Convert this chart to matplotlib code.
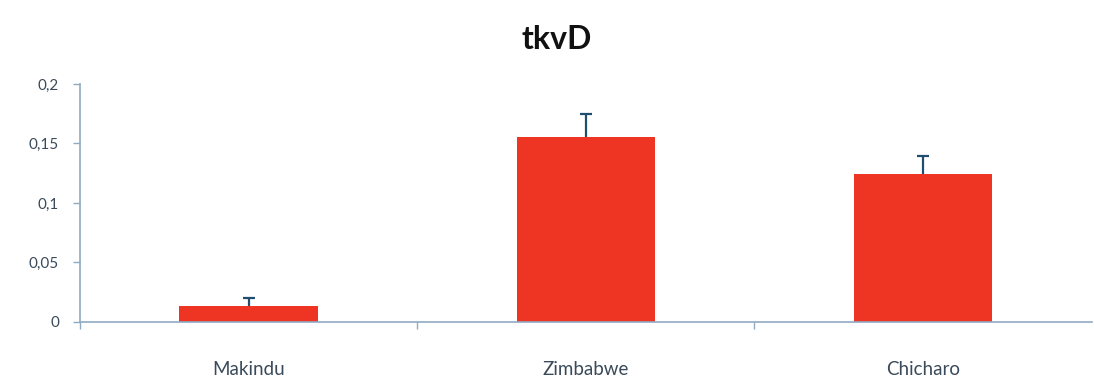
import numpy as np
import matplotlib.pyplot as plt

plt.rcParams['font.family'] = ['Lato', 'DejaVu Sans']

# tkvD expression per variety
varieties = ['Makindu', 'Zimbabwe', 'Chicharo']
means = [0.013, 0.155, 0.124]
errors = [0.007, 0.020, 0.015]
yticks = [0, 0.05, 0.1, 0.15, 0.2]
ytick_labels = ['0', '0,05', '0,1', '0,15', '0,2']

bar_color = '#EE3524'
axis_color = '#8FAAC3'
text_color = '#3A4A5A'
err_color = '#1F4E6E'

fig = plt.figure(figsize=(10.94, 3.85), dpi=100)
ax = fig.add_axes([0.073, 0.164, 0.925, 0.618])

x = np.arange(len(varieties))
ax.bar(x, means, width=0.41, color=bar_color, zorder=2)
# only the upper half of each error bar is shown
tops = np.array(means) + np.array(errors)
ax.errorbar(x, means, yerr=[np.zeros(len(errors)), errors], fmt='none',
            ecolor=err_color, elinewidth=1.6, capsize=0, zorder=3)
ax.plot(x, tops, linestyle='none', marker='_', markersize=8,
        markeredgewidth=1.6, color=err_color, zorder=3)

ax.set_xlim(-0.5, 2.5)
ax.set_ylim(0, 0.2)
ax.set_yticks(yticks)
ax.set_yticklabels(ytick_labels)
ax.set_xticks(x)
ax.set_xticklabels(varieties)
ax.set_xticks([-0.5, 0.5, 1.5], minor=True)

for side in ['top', 'right']:
    ax.spines[side].set_visible(False)
for side in ['left', 'bottom']:
    ax.spines[side].set_color(axis_color)
    ax.spines[side].set_linewidth(1.2)

ax.tick_params(axis='y', colors=axis_color, labelcolor=text_color,
               labelsize=11, length=5, width=1, pad=10)
ax.tick_params(axis='x', which='major', length=0, labelcolor=text_color,
               labelsize=13.5, pad=28)
ax.tick_params(axis='x', which='minor', colors=axis_color, length=5,
               width=1, direction='out')

fig.suptitle('tkvD', x=0.509, y=0.935, fontsize=23, fontweight='bold',
             color='#111111')

fig.savefig('out.png', dpi=100)
